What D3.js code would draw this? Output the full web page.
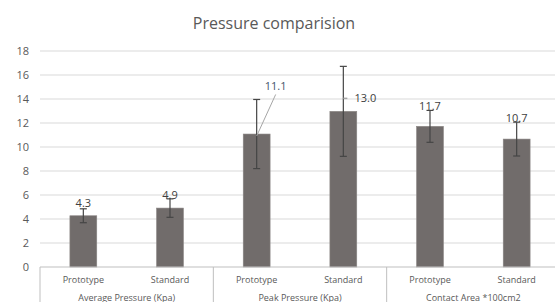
<!DOCTYPE html>
<html>
<head>
<meta charset="utf-8">
<script src="https://cdn.jsdelivr.net/npm/d3@7"></script>
<style>
  body { margin: 0; background: #fff; }
  text { font-family: "Open Sans", "Noto Sans", sans-serif; fill: #595959; }
</style>
</head>
<body>
<div id="chart"></div>
<script>
// chart values
const groups = ["Average Pressure (Kpa)", "Peak Pressure (Kpa)", "Contact Area *100cm2"];
const types = ["Prototype", "Standard"];
const means = [4.27, 4.91, 11.08, 12.97, 11.72, 10.66];
const errors = [0.58, 0.77, 2.88, 3.75, 1.33, 1.41];
const yTicks = [0, 2, 4, 6, 8, 10, 12, 14, 16, 18];

// label placement (moved by hand in the original): [dx px, dy px from error top]
const labelNudge = [[0, -2], [0, 0], [19, -9], [22, 36], [0, 0], [0, 0]];

const width = 555, height = 302;
const margin = {top: 51, left: 40, bottom: 35};
const plotRight = 560;

const svg = d3.select("#chart").append("svg")
    .attr("width", width).attr("height", height);

svg.append("text")
    .attr("x", 274).attr("y", 29)
    .attr("text-anchor", "middle")
    .style("font-size", "16px")
    .style("fill", "#595959")
    .text("Pressure comparision");

const y = d3.scaleLinear().domain([0, 18]).range([height - margin.bottom, margin.top]);

const rows = [];
groups.forEach((g, gi) => types.forEach((t, ti) => {
  const i = gi * types.length + ti;
  rows.push({key: g + "|" + t, group: g, type: t, mean: means[i], err: errors[i], i: i});
}));

const xGroup = d3.scaleBand().domain(groups).range([margin.left, plotRight]);
const xType = d3.scaleBand().domain(types).range([0, xGroup.bandwidth()]).paddingInner(0.69).paddingOuter(0.345);
const cx = d => xGroup(d.group) + xType(d.type) + xType.bandwidth() / 2;

// grid
svg.append("g").selectAll("line").data(yTicks.slice(1)).enter().append("line")
    .attr("x1", margin.left).attr("x2", plotRight)
    .attr("y1", d => y(d)).attr("y2", d => y(d))
    .style("stroke", "#d9d9d9").style("stroke-width", 1);

// y axis labels
const yAxis = svg.append("g")
    .attr("transform", "translate(" + (margin.left - 11) + ",0)")
    .call(d3.axisLeft(y).tickValues(yTicks).tickSize(0).tickPadding(0));
yAxis.select(".domain").remove();
yAxis.selectAll("text").style("font-size", "11px").style("fill", "#595959")
    .style("font-family", "'Open Sans', sans-serif");

// bars
svg.append("g").selectAll("rect").data(rows).enter().append("rect")
    .attr("x", d => xGroup(d.group) + xType(d.type))
    .attr("width", xType.bandwidth())
    .attr("y", d => y(d.mean))
    .attr("height", d => y(0) - y(d.mean))
    .style("fill", "#716c6b")
    .style("stroke", "#8a8584").style("stroke-width", 0.6);

// baseline + group separators
const base = y(0);
svg.append("line").attr("x1", margin.left).attr("x2", plotRight)
    .attr("y1", base).attr("y2", base).style("stroke", "#bfbfbf");
svg.append("g").selectAll("line").data(groups).enter().append("line")
    .attr("x1", d => xGroup(d)).attr("x2", d => xGroup(d))
    .attr("y1", base).attr("y2", height)
    .style("stroke", "#bfbfbf");

// error bars
const eb = svg.append("g").selectAll("g").data(rows).enter().append("g")
    .style("stroke", "#454545").style("stroke-width", 1.2);
eb.append("line")
    .attr("x1", cx).attr("x2", cx)
    .attr("y1", d => y(d.mean + d.err)).attr("y2", d => y(d.mean - d.err));
[1, -1].forEach(s => {
  eb.append("line")
    .attr("x1", d => cx(d) - 3.5).attr("x2", d => cx(d) + 3.5)
    .attr("y1", d => y(d.mean + s * d.err)).attr("y2", d => y(d.mean + s * d.err));
});

// data labels
const labelPos = d => {
  const n = labelNudge[d.i];
  return [cx(d) + n[0], y(d.mean + d.err) + n[1]];
};

// leader lines for the two moved labels
svg.append("line")
    .attr("x1", cx(rows[2])).attr("y1", y(rows[2].mean) + 2)
    .attr("x2", labelPos(rows[2])[0]).attr("y2", labelPos(rows[2])[1] + 4)
    .style("stroke", "#a6a6a6").style("stroke-width", 1);
svg.append("line")
    .attr("x1", cx(rows[3])).attr("y1", labelPos(rows[3])[1] - 4)
    .attr("x2", cx(rows[3]) + 4).attr("y2", labelPos(rows[3])[1] - 4)
    .style("stroke", "#a6a6a6").style("stroke-width", 1.5);

svg.append("g").selectAll("text").data(rows).enter().append("text")
    .attr("x", d => labelPos(d)[0])
    .attr("y", d => labelPos(d)[1])
    .attr("text-anchor", "middle")
    .style("font-size", "11px")
    .style("fill", d => d.i === 2 ? "#44546a" : "#404040")
    .text(d => d3.format(".1f")(d.mean));

// category labels
svg.append("g").selectAll("text").data(rows).enter().append("text")
    .attr("x", cx).attr("y", base + 16)
    .attr("text-anchor", "middle")
    .style("font-size", "9px")
    .text(d => d.type);

svg.append("g").selectAll("text").data(groups).enter().append("text")
    .attr("x", d => xGroup(d) + xGroup.bandwidth() / 2).attr("y", base + 34)
    .attr("text-anchor", "middle")
    .style("font-size", "9px")
    .text(d => d);
</script>
</body>
</html>
